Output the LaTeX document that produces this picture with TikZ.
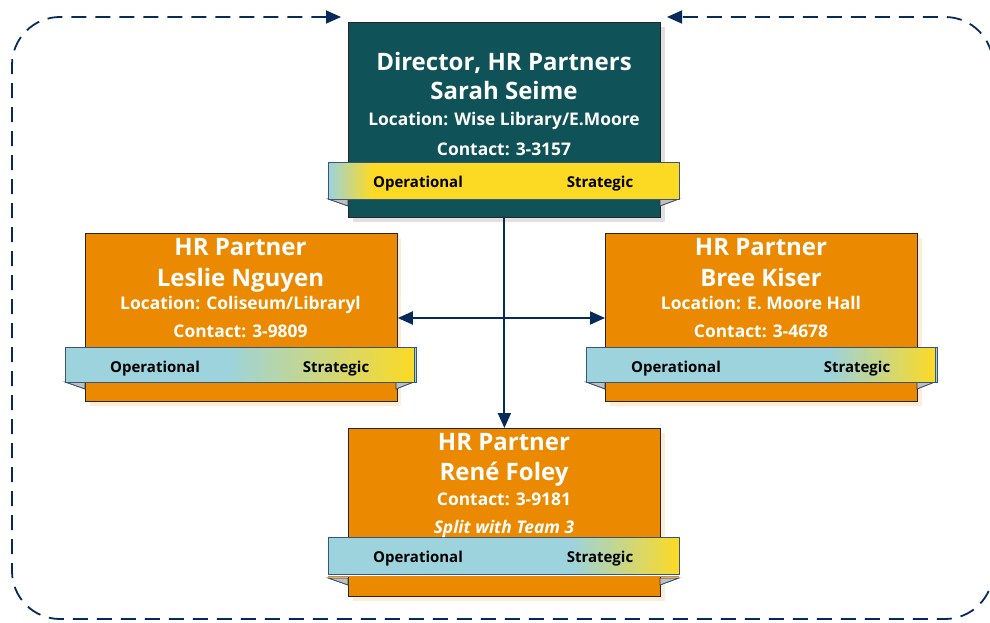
\documentclass[tikz,border=0pt]{standalone}
\usepackage{fontspec}
\setmainfont{Open Sans}
\usetikzlibrary{arrows.meta}
\definecolor{navy}{HTML}{062B5B}
\definecolor{teal}{HTML}{0F5257}
\definecolor{orng}{HTML}{EB8A00}
\definecolor{ribblue}{HTML}{9CD3DC}
\definecolor{ribyel}{HTML}{FCDA24}
\begin{document}
\begin{tikzpicture}[x=1pt,y=-1pt,
  boxst/.style={draw=black!85, line width=0.8pt, minimum width=312pt, anchor=north west, inner sep=0pt},
  ribst/.style={draw=navy!80, line width=0.8pt, minimum width=351pt, minimum height=37pt, anchor=north west, inner sep=0pt},
  ttl/.style={anchor=base, text=white, font=\bfseries\fontsize{24}{28}\selectfont, inner sep=0pt},
  dttl/.style={anchor=base, text=white, font=\bfseries\fontsize{24}{28}\selectfont, inner sep=0pt},
  sub/.style={anchor=base, text=white, font=\bfseries\fontsize{17.4}{20}\selectfont, inner sep=0pt},
  rib/.style={anchor=base, text=black, font=\bfseries\fontsize{15}{17}\selectfont, inner sep=0pt},
  conn/.style={draw=navy, line width=2pt, -{Triangle[length=15pt,width=13pt]}},
  fold/.style={fill=black!25, draw=black!80, line width=0.6pt}
]
\useasboundingbox (0,0) rectangle (990,623);

% dashed loop
\coordinate (tipL) at (341,17);
\coordinate (tipR) at (667,17);
\draw[navy, line width=1.8pt, dash pattern=on 15pt off 9pt, rounded corners=48pt,
  {Triangle[length=15pt,width=13pt]}-{Triangle[length=15pt,width=13pt]}]
  (tipL) -- (12,17) -- (12,619) -- (993,619) -- (993,17) -- (tipR);

% shadows
\fill[black!12] (353,27) rectangle (665,222);
\fill[orng!15] (90,238) rectangle (401,406);
\fill[orng!15] (610,238) rectangle (922,406);
\fill[orng!15] (353,433) rectangle (665,601);

% Director box
\node[boxst, fill=teal, minimum height=195pt] (dir) at (348,22) {};
\fill[fold] (328,199) -- (348,206) -- (348,199) -- cycle;
\fill[fold] (679,199) -- (660,206) -- (660,199) -- cycle;
\draw[navy!80, line width=0.6pt] (328,199) -- (348,206) (679,199) -- (660,206);
\node[ribst, fill=ribyel] (dribbon) at (328,162) {};
\shade[left color=ribblue, right color=ribyel] (328.4,162.4) rectangle (372,198.6);
\draw[navy!80, line width=0.8pt] (328,162) rectangle (679,199);
\node[dttl] (d1) at (504,71) {Director, HR Partners};
\node[dttl] (d2) at (504,100) {Sarah Seime};
\node[sub] (d3) at (504,125) {Location: Wise Library/E.Moore};
\node[sub] (d4) at (504,155) {Contact: 3-3157};
\node[rib] (d5) at (418,187) {Operational};
\node[rib] (d6) at (600,187) {Strategic};

% Left box
\node[boxst, fill=orng, minimum height=168pt] (lft) at (85,233) {};
\fill[fold] (65,382) -- (85,389) -- (85,382) -- cycle;
\fill[fold] (414,382) -- (396,389) -- (396,382) -- cycle;
\draw[navy!80, line width=0.6pt] (65,382) -- (85,389) (414,382) -- (396,389);
\node[ribst, fill=ribblue, minimum height=35pt] (lribbon) at (65,347) {};
\shade[left color=ribblue, right color=ribyel] (228,347.4) rectangle (413.6,381.6);
\draw[navy!80, line width=0.8pt] (65,347) rectangle (414,382);
\node[ttl] (l1) at (240.5,255) {HR Partner};
\node[ttl] (l2) at (240.5,286) {Leslie Nguyen};
\node[sub] (l3) at (240.5,309) {Location: Coliseum/Libraryl};
\node[sub] (l4) at (240.5,337) {Contact: 3-9809};
\node[rib] (l5) at (155,372) {Operational};
\node[rib] (l6) at (336,372) {Strategic};

% Right box
\node[boxst, fill=orng, minimum height=168pt] (rgt) at (605,233) {};
\fill[fold] (586,382) -- (605,389) -- (605,382) -- cycle;
\fill[fold] (935,382) -- (917,389) -- (917,382) -- cycle;
\draw[navy!80, line width=0.6pt] (586,382) -- (605,389) (935,382) -- (917,389);
\node[ribst, fill=ribblue, minimum height=35pt] (rribbon) at (586,347) {};
\shade[left color=ribblue, right color=ribyel] (830,347.4) rectangle (934.6,381.6);
\draw[navy!80, line width=0.8pt] (586,347) rectangle (935,382);
\node[ttl] (r1) at (761,255) {HR Partner};
\node[ttl] (r2) at (761,286) {Bree Kiser};
\node[sub] (r3) at (761,309) {Location: E. Moore Hall};
\node[sub] (r4) at (761,337) {Contact: 3-4678};
\node[rib] (r5) at (676,372) {Operational};
\node[rib] (r6) at (857,372) {Strategic};

% Bottom box
\node[boxst, fill=orng, minimum height=168pt] (bot) at (348,428) {};
\fill[fold] (328,578) -- (348,585) -- (348,578) -- cycle;
\fill[fold] (679,578) -- (660,585) -- (660,578) -- cycle;
\draw[navy!80, line width=0.6pt] (328,578) -- (348,585) (679,578) -- (660,585);
\fill[orng] (328,574) rectangle (679,577);
\draw[white, line width=1pt] (328,575) -- (679,575);
\node[ribst, fill=ribblue, minimum height=37pt] (bribbon) at (328,537) {};
\shade[left color=ribblue, right color=ribyel] (572,537.4) rectangle (678.6,573.6);
\draw[navy!80, line width=0.8pt] (328,537) rectangle (679,574);
\node[ttl] (b1) at (504,450) {HR Partner};
\node[ttl] (b2) at (504,480) {René Foley};
\node[sub] (b3) at (504,505) {Contact: 3-9181};
\node[sub, font=\bfseries\itshape\fontsize{17.4}{20}\selectfont] (b4) at (504,533) {Split with Team 3};
\node[rib] (b5) at (418,562) {Operational};
\node[rib] (b6) at (600,562) {Strategic};

% connectors
\coordinate (hub) at (504,318);
\draw[conn] (dir.south) -- (bot.north);
\draw[conn] (hub) -- (lft.east |- hub);
\draw[conn] (hub) -- (rgt.west |- hub);
\end{tikzpicture}
\end{document}
